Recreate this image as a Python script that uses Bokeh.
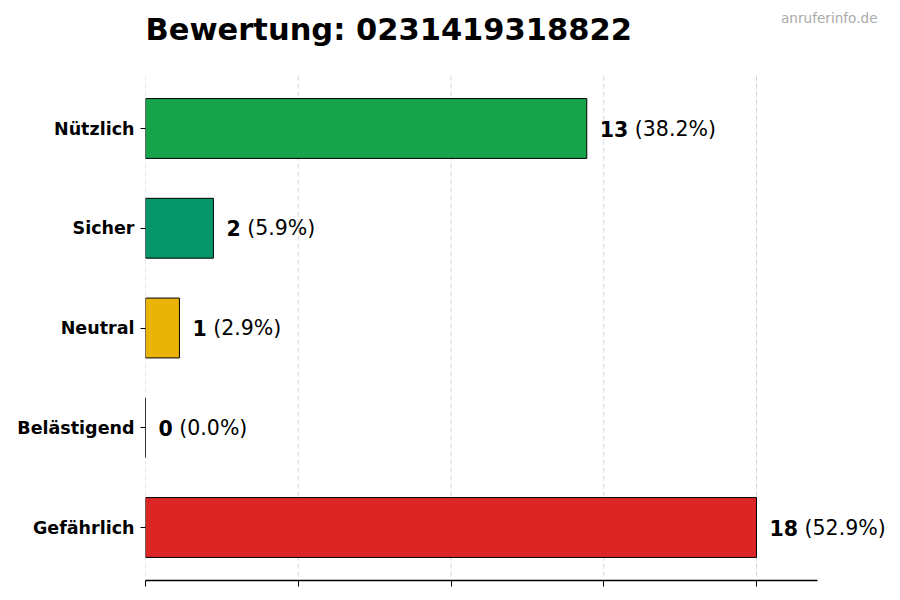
from bokeh.plotting import figure
from bokeh.models import Range1d, FixedTicker, Label, LabelSet, ColumnDataSource
from bokeh.core.properties import value
from bokeh.embed import file_html
from bokeh.resources import INLINE

categories = ["Nützlich", "Sicher", "Neutral", "Belästigend", "Gefährlich"]
counts = [13, 2, 1, 0, 18]
colors = ["#16a34a", "#059669", "#eab308", "#f97316", "#dc2626"]
x_ticks = [0, 4.5, 9, 13.5, 18]
x_max = 19.8
title_text = "Bewertung: 0231419318822"
watermark = "anruferinfo.de"

total = sum(counts)
positions = list(range(len(categories)))
nums = [str(c) for c in counts]
pcts = [f"({c / total * 100:.1f}%)" for c in counts]

FONT = "DejaVu Sans"
NUM_SIZE = 20.5
DIGIT_W = 0.696 * NUM_SIZE
SPACE_W = 0.318 * NUM_SIZE
pct_off = [13 + len(n) * DIGIT_W + SPACE_W for n in nums]

src = ColumnDataSource(dict(pos=positions, count=counts, color=colors,
                            num=nums, pct=pcts, pct_off=pct_off))

W, H = 900, 600
LEFT, BOTTOM = 145, 20
PX_PER_UNIT = 611 / 18.0
ROW = 99.75
frame_w = W - LEFT
frame_h = H - BOTTOM
y_top = -128 / ROW
y_bot = y_top + frame_h / ROW

p = figure(width=W, height=H, output_backend="svg", toolbar_location=None,
           x_range=Range1d(0, frame_w / PX_PER_UNIT),
           y_range=Range1d(y_bot, y_top),
           min_border_left=LEFT, min_border_right=0, min_border_top=0,
           min_border_bottom=BOTTOM)
p.outline_line_color = None
p.background_fill_color = "white"
p.border_fill_color = "white"

# grid lines (dashed), limited to the plotting area
p.segment(x0=x_ticks, x1=x_ticks, y0=[-0.53] * len(x_ticks),
          y1=[len(categories) - 0.47] * len(x_ticks),
          line_color="#d4d4d4", line_dash="5 3", line_width=1)

p.hbar(y="pos", left=0, right="count", height=0.6, fill_color="color",
       line_color="black", line_width=1, source=src)

nums_ls = LabelSet(x="count", y="pos", text="num", x_offset=13, source=src,
                   text_baseline="middle", text_font=value(FONT),
                   text_font_style="bold", text_font_size=f"{NUM_SIZE}px",
                   text_color="black")
pct_ls = LabelSet(x="count", y="pos", text="pct", x_offset="pct_off", source=src,
                  text_baseline="middle", text_font=value(FONT),
                  text_font_size=f"{NUM_SIZE}px", text_color="black")
p.add_layout(nums_ls)
p.add_layout(pct_ls)

# x axis: tick marks only (no labels) -> use minor ticks
p.xaxis.ticker = FixedTicker(ticks=[], minor_ticks=x_ticks)
p.xaxis.bounds = (0, x_max)
p.xaxis.axis_line_color = "black"
p.xaxis.axis_line_width = 1.3
p.xaxis.major_tick_line_color = None
p.xaxis.minor_tick_out = 6
p.xaxis.minor_tick_in = 0
p.xaxis.minor_tick_line_color = "black"
p.xaxis.minor_tick_line_width = 1

# y axis
p.yaxis.ticker = FixedTicker(ticks=positions)
p.yaxis.major_label_overrides = {i: c for i, c in zip(positions, categories)}
p.yaxis.axis_line_color = None
p.yaxis.major_tick_out = 5
p.yaxis.major_tick_in = 0
p.yaxis.major_tick_line_color = "black"
p.yaxis.minor_tick_line_color = None
p.yaxis.major_label_standoff = 6
p.yaxis.major_label_text_font = FONT
p.yaxis.major_label_text_font_style = "bold"
p.yaxis.major_label_text_font_size = "17.5px"
p.yaxis.major_label_text_color = "black"

p.xgrid.grid_line_color = None
p.ygrid.grid_line_color = None

# title and watermark (screen units relative to the plotting frame)
p.add_layout(Label(x=0, y=frame_h - 28.5, x_units="screen", y_units="screen",
                   text=title_text, text_align="left", text_baseline="alphabetic",
                   text_font=FONT, text_font_style="bold", text_font_size="30.5px",
                   text_color="black"))
p.add_layout(Label(x=877 - LEFT, y=frame_h - 17.5, x_units="screen", y_units="screen",
                   text=watermark, text_align="right", text_baseline="alphabetic",
                   text_font=FONT, text_font_size="13.6px", text_color="#aaaaaa"))

open("out.html", "w").write(file_html(p, INLINE))
